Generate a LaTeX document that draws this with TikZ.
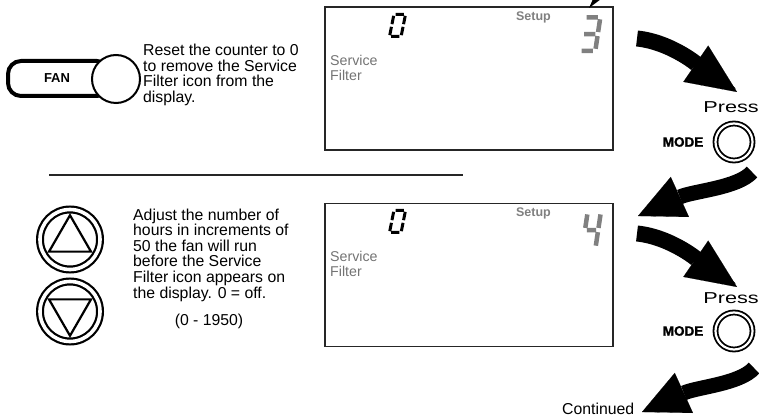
\documentclass[tikz,border=0pt]{standalone}
\usepackage{fontspec}
\setmainfont{Liberation Sans}
\newfontfamily\widefont[FakeStretch=1.37]{Liberation Sans}
\newfontfamily\heavyfont[FakeBold=1.6]{Liberation Sans Bold}
\usetikzlibrary{arrows.meta,positioning,shapes.geometric}

\begin{document}
\begin{tikzpicture}[
    x=1pt, y=-1pt,
    body/.style={inner sep=0pt, align=left, font=\fontsize{15.8}{15.6}\selectfont},
    lcd/.style={rectangle, draw=black!85, line width=1.3pt, minimum width=288pt, minimum height=143pt, inner sep=0pt},
    lcdtext/.style={inner sep=0pt, align=left, text=black!55, font=\fontsize{14.2}{15}\selectfont},
    setuptext/.style={inner sep=0pt, text=black!50, font=\fontsize{12.5}{14}\selectfont\bfseries},
    seg/.style={line width=3pt, draw=black},
    dimseg/.style={line width=4.5pt, draw=black!50},
    fanpill/.style={rectangle, rounded corners=13pt, draw, line width=4pt, minimum width=102pt, minimum height=35pt, inner sep=0pt, font=\fontsize{13}{14}\selectfont\bfseries},
    knob/.style={circle, draw, fill=white, line width=2pt, minimum size=48pt, inner sep=0pt},
    arrowbtn/.style={circle, draw, double, line width=2.2pt, double distance=3.6pt, minimum size=60pt, inner sep=0pt},
    arrowtri/.style={regular polygon, regular polygon sides=3, draw, line width=2.2pt, minimum size=48.5pt, inner sep=0pt},
    modebtn/.style={circle, draw, double, line width=1.8pt, double distance=2.2pt, minimum size=37pt, inner sep=0pt, outer sep=0pt},
    modelbl/.style={inner sep=0pt, font=\heavyfont\fontsize{13.5}{14}\selectfont},
    presslbl/.style={inner sep=0pt, font=\widefont\fontsize{15.8}{16}\selectfont},
    bigarrow/.style={line width=16pt, -{Triangle[length=50pt, width=44pt, line width=0.1pt]}},
    swoop/.style={line width=15pt, -{Triangle[length=46pt, width=44pt, line width=0.1pt]}}
]
\useasboundingbox (0,0) rectangle (759,419);

% FAN key
\node[fanpill] (fan) at (59,78.5) {FAN\hspace*{4pt}};
\node[knob] (fanknob) at (116,79) {};
\node[body, anchor=north west] (resettxt) at (143,44) {Reset the counter to 0\\ to remove the Service\\ Filter icon from the\\display.};

% first display
\node[lcd] (lcdA) at (469,78.5) {};
\node[lcdtext, anchor=north west] (sfA) at (330,54.8) {Service\\Filter};
\node[setuptext, anchor=base] (setupA) at (533.5,21) {Setup};
\begin{scope}[shift={(389.5,36.5)}, x=11.6pt, y=11pt, xslant=0.2]
  \draw[seg] (0.15,2) -- (0.85,2) (1,1.88) -- (1,1.12) (1,0.88) -- (1,0.12)
    (0.15,0) -- (0.85,0) (0,0.12) -- (0,0.88) (0,1.12) -- (0,1.88);
\end{scope}
\begin{scope}[shift={(579.3,50.8)}, x=16pt, y=16.75pt, xslant=0.15]
  \draw[dimseg] (0.15,2) -- (0.85,2) (1,1.88) -- (1,1.12) (1,0.88) -- (1,0.12)
    (0.15,0) -- (0.85,0) (0.15,1) -- (0.85,1);
\end{scope}

% separator
\draw[line width=1.4pt, black!85] (49,175) -- (463,175);

% up / down keys
\node[arrowbtn] (upbtn) at (70,239.5) {};
\node[arrowtri] (uptri) at (upbtn) {};
\node[arrowbtn] (downbtn) at (70,311.5) {};
\node[arrowtri, shape border rotate=180] (downtri) at (downbtn) {};
\node[body, anchor=north west] (adjtxt) at (133,208.5) {Adjust the number of\\hours in increments of\\50 the fan will run\\before the Service\\Filter icon appears on\\the display. 0 = off.};
\node[body, anchor=base] (rangetxt) at (209,325) {(0 - 1950)};

% second display
\node[lcd] (lcdB) at (469,275) {};
\node[lcdtext, anchor=north west] (sfB) at (330,250.8) {Service\\Filter};
\node[setuptext, anchor=base] (setupB) at (533.5,217) {Setup};
\begin{scope}[shift={(389.5,232.5)}, x=11.6pt, y=11pt, xslant=0.2]
  \draw[seg] (0.15,2) -- (0.85,2) (1,1.88) -- (1,1.12) (1,0.88) -- (1,0.12)
    (0.15,0) -- (0.85,0) (0,0.12) -- (0,0.88) (0,1.12) -- (0,1.88);
\end{scope}
\begin{scope}[shift={(582.3,247.8)}, x=13.2pt, y=17.75pt, xslant=0.15]
  \draw[dimseg] (0,1.12) -- (0,1.88) (0.15,1) -- (0.85,1)
    (1,1.88) -- (1,1.12) (1,0.88) -- (1,0.12);
\end{scope}

% MODE keys
\node[modebtn] (modeA) at (734,142) {};
\node[modelbl, left=12pt of modeA] (modelblA) {MODE};
\node[presslbl, anchor=base east] (pressA) at (759,113) {Press};
\node[modebtn] (modeB) at (734,331) {};
\node[modelbl, left=12pt of modeB] (modelblB) {MODE};
\node[presslbl, anchor=base east] (pressB) at (759,303) {Press};
\node[body, anchor=base west] (contd) at (562,414) {Continued};

% big arrows
\fill (589,8) -- (593,-1) -- (601,-1) -- cycle;
\draw[bigarrow] (637,38.5) .. controls (672,42) and (702,68) .. (737,92);
\draw[swoop] (752,172) .. controls (738,188) and (693,191) .. (638,216);
\draw[bigarrow] (637,233.5) .. controls (672,237) and (702,263) .. (737,287);
\draw[swoop] (754,368) .. controls (740,384) and (697,387) .. (642,412);

\end{tikzpicture}
\end{document}
